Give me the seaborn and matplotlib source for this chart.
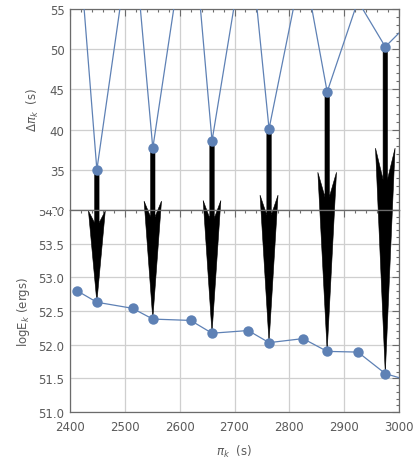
import numpy as np
import pandas as pd
import matplotlib
matplotlib.use("Agg")
import matplotlib.pyplot as plt
import seaborn as sns
from matplotlib.patches import Polygon
from matplotlib.transforms import Bbox, TransformedBbox
from matplotlib.ticker import MultipleLocator, FixedLocator

# ---- data ----
periods = [2413, 2449, 2514, 2551, 2620, 2659, 2725, 2763, 2825, 2869, 2925, 2975, 3029]
delta_pi = [66.0, 35.0, 66.0, 37.7, 69.0, 38.6, 66.0, 40.1, 61.0, 44.7, 56.0, 50.3, 54.0]
log_e = [52.80, 52.63, 52.54, 52.38, 52.36, 52.17, 52.21, 52.03, 52.09, 51.90, 51.89, 51.57, 51.44]
arrow_periods = [2449, 2551, 2659, 2763, 2869, 2975]

x_ticks = [2400, 2500, 2600, 2700, 2800, 2900, 3000]
top_ticks = [30, 35, 40, 45, 50, 55]
bot_ticks = [51.0, 51.5, 52.0, 52.5, 53.0, 53.5, 54.0]

df = pd.DataFrame({"period": periods, "dpi": delta_pi, "loge": log_e})

sns.set_style("white")
plt.rcParams["font.family"] = ["DejaVu Sans"]
plt.rcParams["mathtext.fontset"] = "dejavusans"

BLUE = "#5E81B5"
FRAME = "#6b6b6b"
TXT = "#5a5a5a"
GRID = "#cfcfcf"

fig = plt.figure(figsize=(4.18, 4.64), dpi=100)
fig.patch.set_facecolor("white")
L, W = 70 / 418, (399 - 70) / 418
ax1 = fig.add_axes([L, 1 - 211 / 464, W, (211 - 10) / 464])
ax2 = fig.add_axes([L, 1 - 413 / 464, W, (413 - 211) / 464])

sns.lineplot(data=df, x="period", y="dpi", ax=ax1, color=BLUE, lw=0.9,
             marker="o", markersize=7.5, markeredgewidth=0, zorder=3)
sns.lineplot(data=df, x="period", y="loge", ax=ax2, color=BLUE, lw=0.9,
             marker="o", markersize=7.5, markeredgewidth=0, zorder=3)

for ax in (ax1, ax2):
    ax.set_xlim(2400, 3000)
    ax.xaxis.set_major_locator(FixedLocator(x_ticks))
    ax.xaxis.set_minor_locator(MultipleLocator(20))
    ax.grid(True, which="major", color=GRID, lw=0.9, zorder=0)
    ax.set_axisbelow(True)
    ax.tick_params(which="both", direction="in", top=True, right=True,
                   color=FRAME, labelcolor=TXT, labelsize=8.5, width=0.8)
    ax.tick_params(which="major", length=5)
    ax.tick_params(which="minor", length=2.5)
    ax.tick_params(axis="y", which="major", pad=4)
    ax.tick_params(axis="x", which="major", pad=6)
    for sp in ax.spines.values():
        sp.set_color(FRAME)
        sp.set_linewidth(0.9)
    ax.set_xlabel("")
    ax.set_ylabel("")

ax1.set_ylim(30, 55)
ax1.yaxis.set_major_locator(FixedLocator(top_ticks))
ax1.set_yticklabels([str(t) for t in top_ticks])
ax1.yaxis.set_minor_locator(MultipleLocator(1))
ax1.tick_params(labelbottom=False)

ax2.set_ylim(51, 54)
ax2.yaxis.set_major_locator(FixedLocator(bot_ticks))
ax2.set_yticklabels([f"{t:.1f}" for t in bot_ticks])
ax2.yaxis.set_minor_locator(MultipleLocator(0.1))
ax2.set_xticklabels([str(t) for t in x_ticks])

fig.text(33 / 418, 1 - 110 / 464, r"$\Delta\pi_k$  (s)", rotation=90,
         ha="center", va="center", color=TXT, fontsize=8.5)
fig.text(23 / 418, 1 - 312 / 464, r"$\mathrm{logE}_k$ (ergs)", rotation=90,
         ha="center", va="center", color=TXT, fontsize=8.5)
fig.text(234 / 418, 1 - 452 / 464, r"$\pi_k$  (s)",
         ha="center", va="center", color=TXT, fontsize=8.5)

fig.canvas.draw()

# clip tick labels to their own panel (reproduces the overlapped boundary label)
yb = 1 - 211 / 464
clip_top = TransformedBbox(Bbox([[0, yb], [1, 1]]), fig.transFigure)
clip_bot = TransformedBbox(Bbox([[0, 0], [1, yb]]), fig.transFigure)
for t in ax1.yaxis.get_major_ticks():
    t.label1.set_clip_box(clip_top)
    t.label1.set_clip_on(True)
for t in ax2.yaxis.get_major_ticks():
    t.label1.set_clip_box(clip_bot)
    t.label1.set_clip_on(True)

# arrows from top points to bottom points
inv = fig.transFigure.inverted()
sel = df[df["period"].isin(arrow_periods)]
for _, r in sel.iterrows():
    xs, ys = ax1.transData.transform((r["period"], r["dpi"]))
    xe, ye = ax2.transData.transform((r["period"], r["loge"]))
    length = ys - ye
    H = 0.69 * length
    w = 7.5 + 0.007 * length
    s = 2.2
    n = 0.18 * H
    yback = ye + H - n * (w - s) / w
    pts = [(xs - s, ys), (xs - s, yback), (xs - w, ye + H), (xe, ye),
           (xs + w, ye + H), (xs + s, yback), (xs + s, ys)]
    pts_fig = inv.transform(pts)
    for ax in (ax1, ax2):
        poly = Polygon(pts_fig, closed=True, transform=fig.transFigure,
                       facecolor="black", edgecolor="black", lw=0.4, zorder=2)
        ax.add_artist(poly)
        poly.set_clip_path(ax.patch)

fig.savefig("out.png", dpi=100, facecolor="white")
